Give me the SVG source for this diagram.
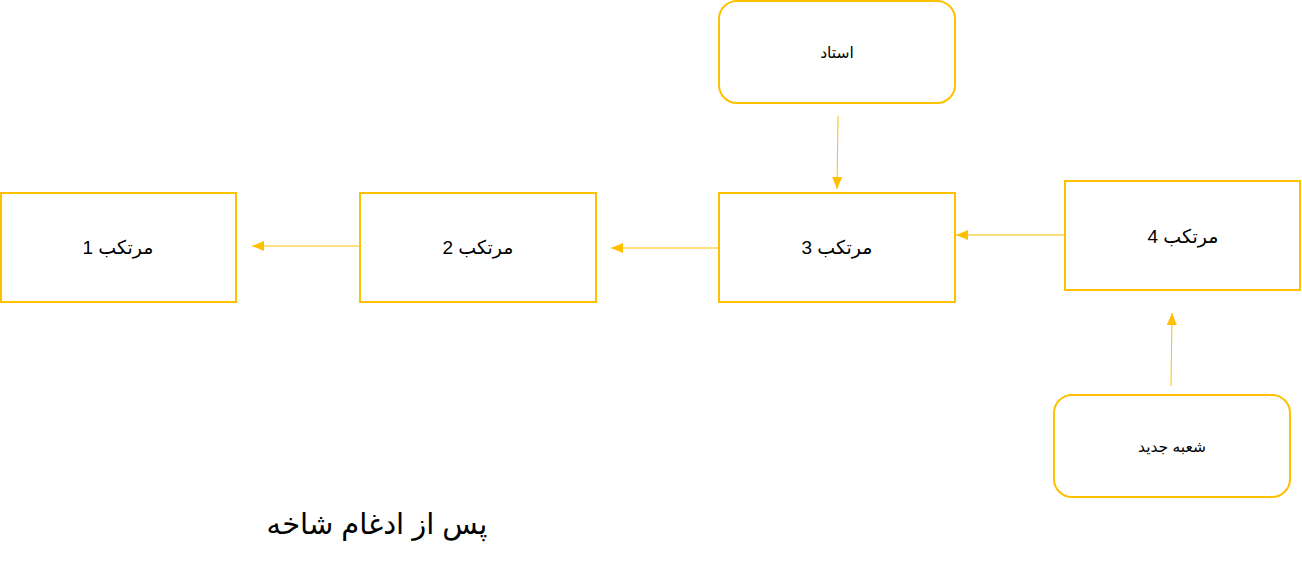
<svg xmlns="http://www.w3.org/2000/svg" width="1302" height="569" viewBox="0 0 1302 569">
<style>
.box{fill:#fff;stroke:#FFC000;stroke-width:2}
.lbl{font-family:"Liberation Sans","DejaVu Sans",sans-serif;fill:#000;text-anchor:middle}
.big{font-size:19px}
.small{font-size:15.5px}
.edge{stroke:#FFC000;stroke-width:1;fill:none}
</style>
<defs>
<marker id="ah" markerWidth="12" markerHeight="10" refX="12" refY="5" orient="auto" markerUnits="userSpaceOnUse">
<path d="M0,0 L12,5 L0,10 Z" fill="#FFC000"/>
</marker>
</defs>
<rect width="1302" height="569" fill="#fff"/>
<g id="connectors">
<line class="edge" x1="359" y1="246" x2="252" y2="246" marker-end="url(#ah)"/>
<line class="edge" x1="718" y1="248" x2="611" y2="248" marker-end="url(#ah)"/>
<line class="edge" x1="1064" y1="235" x2="956" y2="235" marker-end="url(#ah)"/>
<line class="edge" x1="838" y1="116" x2="837" y2="189" marker-end="url(#ah)"/>
<line class="edge" x1="1171" y1="386" x2="1172" y2="313" marker-end="url(#ah)"/>
</g>
<g id="node1"><rect class="box" x="1" y="193" width="235" height="109"/><text class="lbl big" x="118" y="254" direction="rtl">مرتکب 1</text></g>
<g id="node2"><rect class="box" x="360" y="193" width="236" height="109"/><text class="lbl big" x="478" y="254" direction="rtl">مرتکب 2</text></g>
<g id="node3"><rect class="box" x="719" y="193" width="236" height="109"/><text class="lbl big" x="837" y="254" direction="rtl">مرتکب 3</text></g>
<g id="node4"><rect class="box" x="1065" y="181" width="235" height="109"/><text class="lbl big" x="1183" y="243" direction="rtl">مرتکب 4</text></g>
<g id="ostad"><rect class="box" x="719" y="1" width="236" height="102" rx="18"/><text class="lbl small" x="837" y="58" direction="rtl">استاد</text></g>
<g id="branch"><rect class="box" x="1054" y="395" width="236" height="102" rx="18"/><text class="lbl small" x="1172" y="452" direction="rtl">شعبه جدید</text></g>
<g id="title"><text class="lbl" style="font-size:29px" x="377" y="534" direction="rtl">پس از ادغام شاخه</text></g>
</svg>
